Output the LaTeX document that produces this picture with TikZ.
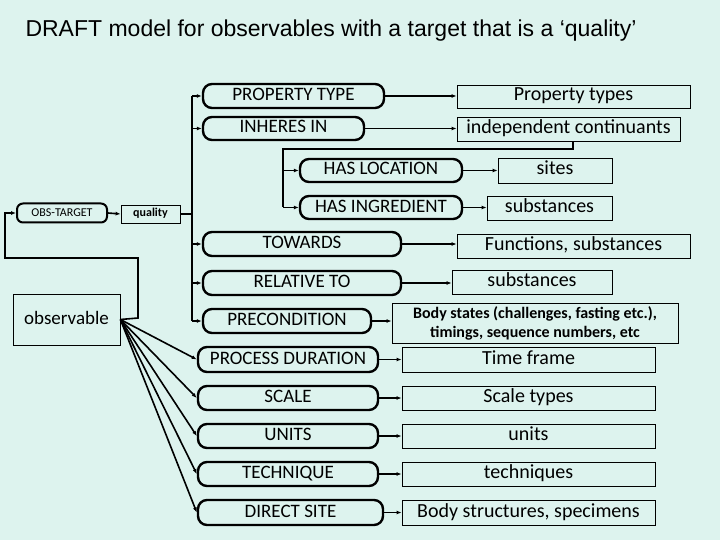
\documentclass[tikz,border=0pt]{standalone}
\usepackage{fontspec}
\setmainfont{Carlito}
\newfontfamily\titlefont{Liberation Sans}
\usetikzlibrary{arrows.meta}
\definecolor{bg}{HTML}{DDF3EE}
\begin{document}
\begin{tikzpicture}[x=1pt,y=-1pt,
  pill/.style={draw,line width=2.4pt,rounded corners=9pt,fill=bg,inner sep=0pt,text height=13pt,text depth=4pt,font=\fontsize{19}{22}\selectfont},
  tbox/.style={draw,line width=0.8pt,fill=bg,inner sep=0pt,text height=13pt,text depth=4pt,font=\fontsize{20}{22}\selectfont},
  arr/.style={line width=1.6pt,-{Latex[length=5pt,width=4pt]}},
  ln/.style={line width=1.6pt}]
\fill[bg] (0,0) rectangle (720,540);
\useasboundingbox (0,0) rectangle (720,540);
\node[anchor=west,font=\titlefont\fontsize{23}{26}\selectfont] (title) at (22,31) {DRAFT model for observables with a target that is a ‘quality’};
\newcommand\pnode[6]{\node[pill,minimum width=#3-#2,minimum height=#5-#4] (#1) at ({(#2+#3)/2},{(#4+#5)/2}) {#6};}
\newcommand\bnode[6]{\node[tbox,minimum width=#3-#2,minimum height=#5-#4] (#1) at ({(#2+#3)/2},{(#4+#5)/2}) {#6};}
\pnode{pt}{203}{384}{84}{108}{PROPERTY TYPE}
\pnode{ii}{203}{364}{117}{140}{INHERES IN}
\pnode{hl}{300}{462}{159}{182}{HAS LOCATION}
\pnode{hi}{300}{462}{196}{219}{HAS INGREDIENT}
\pnode{tw}{203}{401}{232}{256}{TOWARDS}
\pnode{rt}{203}{401}{271}{295}{RELATIVE TO}
\pnode{pc}{203}{371}{309}{333}{PRECONDITION}
\pnode{pd}{198}{378}{347}{372}{PROCESS DURATION}
\pnode{sc}{198}{378}{386}{410}{SCALE}
\pnode{un}{198}{378}{424}{448}{UNITS}
\pnode{te}{198}{378}{462}{486}{TECHNIQUE}
\pnode{ds}{198}{383}{500}{525}{DIRECT SITE}
\node[pill,line width=2pt,rounded corners=6pt,minimum width=90,minimum height=19,text height=8pt,text depth=2pt,font=\fontsize{12}{13}\selectfont] (ot) at (62,213) {OBS-TARGET};
\node[tbox,minimum width=59,minimum height=18,text height=8pt,text depth=3pt,font=\fontsize{12}{13}\selectfont\bfseries] (q) at (150.5,214) {quality};
\node[tbox,minimum width=107,minimum height=51,font=\fontsize{19}{20}\selectfont] (ob) at (66.5,319.5) {observable};
\bnode{rpt}{457}{690}{85}{108}{Property types}
\bnode{rii}{457}{680}{117}{141}{independent continuants}
\bnode{rhl}{498}{612}{158}{183}{sites}
\bnode{rhi}{487}{612}{196}{220}{substances}
\bnode{rtw}{457}{690}{234}{258}{Functions, substances}
\bnode{rrt}{452}{612}{270}{294}{substances}
\node[draw,line width=0.8pt,fill=bg,inner sep=0pt,minimum width=286,minimum height=40,align=center,font=\fontsize{16}{19}\selectfont\bfseries] (rpc) at (535,323) {Body states (challenges, fasting etc.),\\ timings, sequence numbers, etc};
\bnode{rpd}{402}{655}{347}{372}{Time frame}
\bnode{rsc}{402}{655}{386}{410}{Scale types}
\bnode{run}{402}{655}{424}{448}{units}
\bnode{rte}{402}{655}{462}{486}{techniques}
\bnode{rds}{402}{655}{500}{525}{Body structures, specimens}
% left loop
\coordinate (c1) at (138,318);
\coordinate (c2) at (138,258);
\coordinate (c3) at (5,258);
\coordinate (c4) at (5,213);
\draw[arr] (ob.east) -- (c1) -- (c2) -- (c3) -- (c4) -- (ot.west);
\draw[arr] (ot.east) -- (q.west);
% trunk
\coordinate (tk) at (192,214);
\coordinate (tt) at (192,96);
\coordinate (tb) at (192,321);
\draw[ln] (q.east) -- (tk);
\draw[ln] (tt) -- (tb);
\foreach \n in {pt,ii,tw,rt,pc} \draw[arr] (192,0 |- \n.west) -- (\n.west);
% bracket from independent continuants
\coordinate (b1) at (573,149);
\coordinate (b2) at (283,149);
\coordinate (b3) at (283,207);
\draw[ln] (rii.south -| b1) -- (b1) -- (b2) -- (b3);
\draw[arr] (b2 |- hl.west) -- (hl.west);
\draw[arr] (b3 |- hi.west) -- (hi.west);
% fan
\foreach \n in {pd,sc,un,te,ds} \draw[arr] (ob.east) -- (\n.west);
% right arrows
\foreach \a/\b in {pt/rpt,ii/rii,hl/rhl,hi/rhi,tw/rtw,rt/rrt,pc/rpc,pd/rpd,sc/rsc,un/run,te/rte,ds/rds} \draw[arr] (\a.east) -- (\b.west |- \a.east);
\end{tikzpicture}
\end{document}
